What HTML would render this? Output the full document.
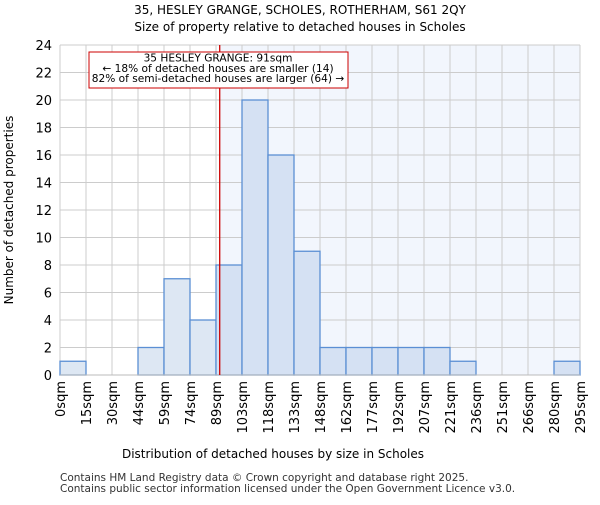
<!DOCTYPE html>
<html><head><meta charset="utf-8"><style>body{margin:0;background:#fff}svg{font-family:"DejaVu Sans","Liberation Sans",sans-serif}</style></head>
<body>
<svg width="600" height="500" id="c">
<text x="300" y="14" text-anchor="middle" font-size="12">35, HESLEY GRANGE, SCHOLES, ROTHERHAM, S61 2QY</text>
<text x="300" y="31" text-anchor="middle" font-size="12">Size of property relative to detached houses in Scholes</text>
<text x="273" y="458" text-anchor="middle" font-size="12">Distribution of detached houses by size in Scholes</text>
<text transform="translate(13,210) rotate(-90)" text-anchor="middle" font-size="12">Number of detached properties</text>
<text x="60" y="481" font-size="10.5" fill="#333">Contains HM Land Registry data © Crown copyright and database right 2025.</text>
<text x="60" y="492" font-size="10.5" fill="#333">Contains public sector information licensed under the Open Government Licence v3.0.</text>
</svg>
<script>
const binLabels=["0sqm","15sqm","30sqm","44sqm","59sqm","74sqm","89sqm","103sqm","118sqm","133sqm","148sqm","162sqm","177sqm","192sqm","207sqm","221sqm","236sqm","251sqm","266sqm","280sqm","295sqm"];
const counts=[1,0,0,2,7,4,8,20,16,9,2,2,2,2,2,1,0,0,0,1];
const yTicks=[0,2,4,6,8,10,12,14,16,18,20,22,24];
const propertyBin=6+2/14;
const NS="http://www.w3.org/2000/svg",svg=document.getElementById('c');
const L=60,R=580,T=45,B=375,yMax=24;
const bw=(R-L)/counts.length;
const x=i=>L+i*bw, y=v=>B-(v/yMax)*(B-T);
function mk(t,a,p){const e=document.createElementNS(NS,t);for(const k in a)e.setAttribute(k,a[k]);(p||svg).appendChild(e);return e;}
const px=x(propertyBin);
const sh=mk('rect',{x:px,y:T,width:R-px,height:B-T,fill:'#f2f6fd'});


yTicks.forEach(v=>{const g=mk('line',{x1:L,x2:R,y1:y(v),y2:y(v),stroke:'#ccc'});


const t=mk('text',{x:L-8,y:y(v)+5,'text-anchor':'end','font-size':13});t.textContent=v;

});
binLabels.forEach((s,i)=>{const g=mk('line',{x1:x(i),x2:x(i),y1:T,y2:B,stroke:'#ccc'});


const t=mk('text',{transform:`translate(${x(i)+5},${B+6}) rotate(-90)`,'text-anchor':'end','font-size':13});t.textContent=s;

});
counts.forEach((v,i)=>{if(!v)return;const r=mk('rect',{x:x(i),y:y(v),width:bw,height:B-y(v),fill:(i+1)>propertyBin?'#d5e1f3':'#dde7f3',stroke:'#5b8fd4','stroke-width':1.3});

});
const ax=mk('line',{x1:L,x2:R,y1:B,y2:B,stroke:'#bbb'});


const ml=mk('line',{x1:px,x2:px,y1:T,y2:B,stroke:'#cc0000','stroke-width':1.3});


const ab=mk('rect',{x:89,y:52,width:259,height:36,fill:'#fff',stroke:'#cc0000'});


["35 HESLEY GRANGE: 91sqm","← 18% of detached houses are smaller (14)","82% of semi-detached houses are larger (64) →"].forEach((s,i)=>{const t=mk('text',{x:218,y:61.5+i*10.3,'text-anchor':'middle','font-size':10.6});t.textContent=s;

});
</script>
</body></html>
